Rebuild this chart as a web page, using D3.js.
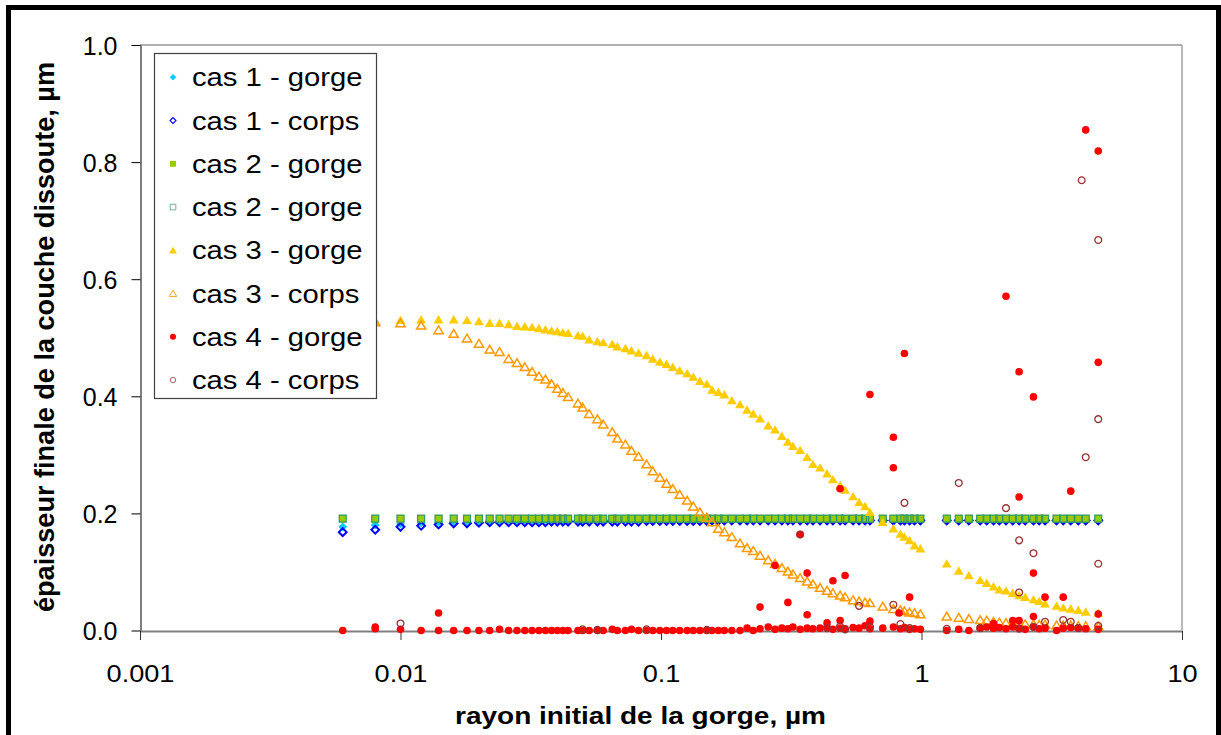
<!DOCTYPE html>
<html>
<head>
<meta charset="utf-8">
<script src="https://cdn.jsdelivr.net/npm/d3@7"></script>
<style>
  body { margin: 0; background: #fff; }
  text { font-family: "Liberation Sans", Arial, sans-serif; }
</style>
</head>
<body>
<script>
/////////////
/// DATA  ///
/////////////

// initial radius of the groove, µm (shared by every series)
var xs = [
  0.006,0.008,0.010,0.012,0.014,0.016,0.018,0.020,0.022,0.024,
  0.026,0.028,0.030,0.032,0.034,0.036,0.038,0.040,0.042,0.044,
  0.048,0.050,0.053,0.057,0.060,0.065,0.068,0.073,0.077,0.082,
  0.088,0.093,0.099,0.105,0.111,0.118,0.126,0.133,0.141,0.150,
  0.157,0.166,0.175,0.187,0.201,0.214,0.226,0.240,0.258,0.274,
  0.291,0.307,0.321,0.342,0.364,0.383,0.408,0.434,0.457,0.487,
  0.509,0.546,0.576,0.607,0.634,
  0.71,0.78,0.83,0.86,0.90,0.94,0.99,
  1.25,1.39,1.52,1.68,1.78,1.89,1.99,2.11,2.24,2.37,
  2.50,2.69,2.83,2.98,3.30,3.50,3.74,4.00,4.27,4.77];

var cas1Gorge = [
  0.177,0.180,0.182,0.184,0.185,0.186,0.186,0.187,0.187,0.187,
  0.188,0.188,0.188,0.188,0.188,0.188,0.189,0.189,0.189,0.189,
  0.189,0.189,0.189,0.189,0.189,0.190,0.190,0.190,0.190,0.190,
  0.190,0.190,0.190,0.190,0.190,0.190,0.190,0.190,0.190,0.190,
  0.190,0.190,0.190,0.190,0.190,0.190,0.190,0.190,0.190,0.190,
  0.190,0.190,0.190,0.190,0.190,0.190,0.190,0.190,0.190,0.190,
  0.190,0.190,0.190,0.190,0.190,
  0.190,0.190,0.190,0.190,0.190,0.190,0.190,
  0.190,0.190,0.190,0.190,0.190,0.190,0.190,0.190,0.190,0.190,
  0.190,0.190,0.190,0.190,0.190,0.190,0.190,0.190,0.190,0.190];

var cas1Corps = [
  0.168,0.172,0.177,0.179,0.181,0.183,0.183,0.184,0.185,0.185,
  0.185,0.185,0.185,0.185,0.185,0.185,0.186,0.186,0.186,0.186,
  0.186,0.186,0.186,0.186,0.186,0.186,0.186,0.186,0.186,0.186,
  0.187,0.187,0.187,0.187,0.187,0.187,0.187,0.187,0.187,0.187,
  0.188,0.188,0.188,0.188,0.188,0.188,0.188,0.188,0.188,0.188,
  0.188,0.188,0.188,0.188,0.188,0.188,0.188,0.188,0.188,0.188,
  0.188,0.188,0.188,0.188,0.188,
  0.188,0.188,0.188,0.188,0.188,0.188,0.188,
  0.188,0.188,0.188,0.188,0.188,0.188,0.188,0.188,0.188,0.188,
  0.188,0.188,0.188,0.188,0.188,0.188,0.188,0.188,0.188,0.188];

var cas2Gorge = [
  0.191,0.191,0.191,0.191,0.191,0.191,0.191,0.191,0.191,0.191,
  0.191,0.191,0.191,0.191,0.191,0.191,0.191,0.191,0.191,0.191,
  0.191,0.191,0.191,0.191,0.191,0.191,0.191,0.191,0.191,0.191,
  0.191,0.191,0.191,0.191,0.191,0.191,0.191,0.191,0.191,0.191,
  0.191,0.191,0.191,0.191,0.191,0.191,0.191,0.191,0.191,0.191,
  0.191,0.191,0.191,0.191,0.191,0.191,0.191,0.191,0.191,0.191,
  0.191,0.191,0.191,0.191,0.191,
  0.191,0.191,0.191,0.191,0.191,0.191,0.191,
  0.191,0.191,0.191,0.191,0.191,0.191,0.191,0.191,0.191,0.191,
  0.191,0.191,0.191,0.191,0.191,0.191,0.191,0.191,0.191,0.191];

var cas2Corps = [
  0.191,0.191,0.191,0.191,0.191,0.191,0.191,0.191,0.191,0.191,
  0.191,0.191,0.191,0.191,0.191,0.191,0.191,0.191,0.191,0.191,
  0.191,0.191,0.191,0.191,0.191,0.191,0.191,0.191,0.191,0.191,
  0.191,0.191,0.191,0.191,0.191,0.191,0.191,0.191,0.191,0.191,
  0.191,0.191,0.191,0.191,0.191,0.191,0.191,0.191,0.191,0.191,
  0.191,0.191,0.191,0.191,0.191,0.191,0.191,0.191,0.191,0.191,
  0.191,0.191,0.191,0.191,0.191,
  0.191,0.191,0.191,0.191,0.191,0.191,0.191,
  0.191,0.191,0.191,0.191,0.191,0.191,0.191,0.191,0.191,0.191,
  0.191,0.191,0.191,0.191,0.191,0.191,0.191,0.191,0.191,0.191];

var cas3Gorge = [
  0.520,0.526,0.530,0.531,0.531,0.531,0.530,0.528,0.525,0.525,
  0.523,0.520,0.519,0.518,0.516,0.514,0.512,0.511,0.509,0.508,
  0.504,0.503,0.497,0.494,0.492,0.489,0.485,0.482,0.478,0.474,
  0.470,0.464,0.459,0.455,0.450,0.444,0.439,0.433,0.426,0.421,
  0.411,0.407,0.403,0.393,0.386,0.377,0.370,0.362,0.350,0.343,
  0.332,0.322,0.315,0.308,0.296,0.284,0.278,0.268,0.258,0.248,
  0.240,0.229,0.219,0.212,0.202,
  0.185,0.174,0.165,0.160,0.154,0.145,0.140,
  0.114,0.102,0.094,0.086,0.081,0.075,0.070,0.068,0.064,0.060,
  0.057,0.053,0.050,0.046,0.042,0.039,0.037,0.035,0.032,0.030];

var cas3Corps = [
  0.524,0.527,0.525,0.521,0.513,0.507,0.499,0.490,0.480,0.476,
  0.464,0.457,0.450,0.442,0.434,0.429,0.421,0.413,0.406,0.399,
  0.388,0.381,0.370,0.361,0.352,0.339,0.328,0.318,0.307,0.297,
  0.284,0.272,0.261,0.251,0.242,0.232,0.222,0.212,0.202,0.193,
  0.185,0.174,0.168,0.160,0.149,0.141,0.136,0.128,0.120,0.114,
  0.107,0.101,0.096,0.090,0.084,0.079,0.073,0.068,0.064,0.060,
  0.057,0.052,0.050,0.048,0.047,
  0.041,0.037,0.035,0.033,0.031,0.030,0.028,
  0.024,0.022,0.020,0.018,0.017,0.015,0.014,0.013,0.012,0.012,
  0.011,0.011,0.010,0.010,0.009,0.009,0.009,0.008,0.008,0.007];

// cas 4 - gorge : the row along zero, then the scattered points above it
var cas4GorgeBase = [
  0,0.003,0.002,0,0,0,0,0,0,0.002,
  0,0,0,0,0,0,0,0,0,0,
  0,0,0,0,0,0.002,0,0,0.002,0,
  0,0,0,0,0,0,0,0,0,0,
  0,0,0,0,0,0.004,0,0.003,0.006,0.002,
  0.004,0.003,0.006,0.002,0.004,0.003,0.004,0.005,0.002,0.004,
  0.003,0.005,0.004,0.008,0.003,
  0.004,0.006,0.003,0.005,0.002,0.003,0.002,
  0,0.002,0,0.004,0.006,0.004,0.005,0.003,0.006,0.004,
  0.002,0.006,0.003,0.004,0,0.004,0.005,0.004,0.003,0.002];
var cas4GorgeSpikeX = [0.008,0.014,0.240,0.274,0.307,0.342,0.364,0.364,0.434,0.457,
  0.487,0.487,0.509,0.634,0.634,0.78,0.78,0.82,0.86,0.90,
  1.89,2.11,2.24,2.37,2.37,2.37,2.69,2.69,2.69,2.98,
  3.50,3.74,4.27,4.77,4.77,4.77];
var cas4GorgeSpikeY = [0.006,0.030,0.040,0.111,0.048,0.164,0.098,0.027,0.013,0.085,
  0.242,0.017,0.094,0.403,0.016,0.330,0.278,0.030,0.473,0.057,
  0.012,0.571,0.017,0.442,0.228,0.017,0.399,0.098,0.024,0.057,
  0.057,0.238,0.855,0.819,0.458,0.028];

// cas 4 - corps
var cas4CorpsX = [0.010,0.050,0.057,0.088,0.150,0.342,0.434,0.487,0.509,0.576,
  0.634,0.78,0.83,0.86,0.90,1.25,1.39,1.68,2.11,2.37,
  2.37,2.37,2.69,2.69,2.98,3.50,3.74,4.00,4.12,4.27,
  4.77,4.77,4.77,4.77];
var cas4CorpsY = [0.012,0.002,0.001,0.002,0.001,0.164,0.004,0.007,0.002,0.042,
  0.006,0.044,0.011,0.218,0.004,0.003,0.252,0.004,0.209,0.154,
  0.065,0.003,0.132,0.006,0.015,0.018,0.015,0.004,0.769,0.296,
  0.667,0.361,0.114,0.008];

var legendLabels = ["cas 1 - gorge", "cas 1 - corps", "cas 2 - gorge", "cas 2 - gorge",
                    "cas 3 - gorge", "cas 3 - corps", "cas 4 - gorge", "cas 4 - corps"];
var xTicks = [0.001, 0.01, 0.1, 1, 10];
var xTickLabels = ["0.001", "0.01", "0.1", "1", "10"];
var yTicks = [0, 0.2, 0.4, 0.6, 0.8, 1.0];
var yTickLabels = ["0.0", "0.2", "0.4", "0.6", "0.8", "1.0"];

/////////////////
/// SETUP VIZ ///
/////////////////

var plot = {left: 140, right: 1182, top: 45, bottom: 630.5};

var x = d3.scaleLog().domain([0.001, 10]).range([plot.left, plot.right]),
    y = d3.scaleLinear().domain([0, 1]).range([plot.bottom, plot.top]);

var svg = d3.select("body").append("svg")
    .attr("width", 1221)
    .attr("height", 735);

svg.append("rect")
    .attr("width", 1221).attr("height", 735)
    .attr("fill", "#fff");

// marker outlines, centred on 0,0
function markerPath(shape, s) {
  if (shape == "diamond") return "M0," + (-s) + "L" + s + ",0L0," + s + "L" + (-s) + ",0Z";
  if (shape == "square") return "M" + (-s) + "," + (-s) + "H" + s + "V" + s + "H" + (-s) + "Z";
  if (shape == "triangle") return "M0," + (-s * 1.05) + "L" + (s * 1.15) + "," + (s * 0.9) +
                                  "L" + (-s * 1.15) + "," + (s * 0.9) + "Z";
  return "M" + s + ",0A" + s + "," + s + " 0 1,1 " + (-s) + ",0A" + s + "," + s + " 0 1,1 " + s + ",0Z";
}

var styles = [
  {shape: "diamond",  size: 4.4, fill: "#00ccff", stroke: "none",    sw: 0},
  {shape: "diamond",  size: 3.9, fill: "none",    stroke: "#0000ff", sw: 2.0},
  {shape: "square",   size: 3.7, fill: "#99cc00", stroke: "none",    sw: 0},
  {shape: "square",   size: 3.5, fill: "none",    stroke: "#339966", sw: 1.2},
  {shape: "triangle", size: 4.3, fill: "#ffcc00", stroke: "none",    sw: 0},
  {shape: "triangle", size: 4.0, fill: "none",    stroke: "#ff9900", sw: 1.5},
  {shape: "circle",   size: 3.8, fill: "#ff0000", stroke: "none",    sw: 0},
  {shape: "circle",   size: 3.4, fill: "none",    stroke: "#993333", sw: 1.3}
];
var legendScale = [0.75, 0.75, 0.8, 0.8, 0.8, 0.8, 0.8, 0.8];

function pairs(xv, yv) { return xv.map(function(d, i) { return [d, yv[i]]; }); }

var seriesPoints = [
  pairs(xs, cas1Gorge),
  pairs(xs, cas1Corps),
  pairs(xs, cas2Gorge),
  pairs(xs, cas2Corps),
  pairs(xs, cas3Gorge),
  pairs(xs, cas3Corps),
  pairs(xs, cas4GorgeBase).concat(pairs(cas4GorgeSpikeX, cas4GorgeSpikeY)),
  pairs(cas4CorpsX, cas4CorpsY)
];

// plot area frame (top and right edges)
svg.append("line")
    .attr("x1", plot.left).attr("x2", plot.right)
    .attr("y1", plot.top).attr("y2", plot.top)
    .attr("stroke", "#b0b0b0").attr("stroke-width", 2);
svg.append("line")
    .attr("x1", plot.right).attr("x2", plot.right)
    .attr("y1", plot.top).attr("y2", plot.bottom)
    .attr("stroke", "#a0a0a0").attr("stroke-width", 1.5);

// y axis
var yAxisG = svg.append("g")
    .attr("transform", "translate(" + (plot.left + 0.5) + ",0)")
    .call(d3.axisLeft(y).tickValues(yTicks)
            .tickFormat(function(d, i) { return yTickLabels[i]; })
            .tickSize(9).tickSizeOuter(0).tickPadding(14));
yAxisG.select(".domain").attr("stroke", "#000");
yAxisG.selectAll(".tick line").attr("stroke", "#000");
yAxisG.selectAll(".tick text")
    .attr("fill", "#000")
    .attr("font-size", 25)
    .attr("font-family", "Liberation Sans, Arial, sans-serif")
    .attr("dy", "0.37em");

// x axis
var xAxisG = svg.append("g")
    .attr("transform", "translate(0," + (plot.bottom + 0.5) + ")")
    .call(d3.axisBottom(x).tickValues(xTicks)
            .tickFormat(function(d, i) { return xTickLabels[i]; })
            .tickSize(9).tickSizeOuter(0).tickPadding(26));
xAxisG.select(".domain").attr("stroke", "#808080").attr("stroke-width", 2);
xAxisG.selectAll(".tick line").attr("stroke", "#333");
xAxisG.selectAll(".tick text")
    .attr("fill", "#000")
    .attr("font-size", 23)
    .attr("font-family", "Liberation Sans, Arial, sans-serif")
    .attr("transform", "scale(1.18,1)");

// series, drawn in legend order
seriesPoints.forEach(function(points, k) {
  var st = styles[k];
  svg.append("g")
      .selectAll("path")
      .data(points)
      .join("path")
      .attr("transform", function(d) { return "translate(" + x(d[0]) + "," + y(d[1]) + ")"; })
      .attr("d", markerPath(st.shape, st.size))
      .attr("fill", st.fill)
      .attr("stroke", st.stroke)
      .attr("stroke-width", st.sw);
});

// legend
var legend = svg.append("g");
legend.append("rect")
    .attr("x", 154.5).attr("y", 53.5)
    .attr("width", 222).attr("height", 345)
    .attr("fill", "#fff")
    .attr("stroke", "#404040").attr("stroke-width", 1.2);

legendLabels.forEach(function(label, i) {
  var st = styles[i],
      cy = 77.3 + i * 43.25;
  legend.append("path")
      .attr("transform", "translate(173," + cy + ")")
      .attr("d", markerPath(st.shape, st.size * legendScale[i]))
      .attr("fill", st.fill)
      .attr("stroke", st.stroke)
      .attr("stroke-width", st.sw * 0.6);
  legend.append("text")
      .attr("transform", "translate(192," + (cy + 9) + ") scale(1.17,1)")
      .attr("font-size", 25)
      .attr("fill", "#000")
      .text(label);
});

// axis titles
svg.append("text")
    .attr("x", 455).attr("y", 724)
    .attr("font-size", 23)
    .attr("font-weight", "bold")
    .attr("textLength", 371)
    .attr("lengthAdjust", "spacingAndGlyphs")
    .text("rayon initial de la gorge, µm");

svg.append("text")
    .attr("transform", "translate(54,612) rotate(-90) scale(1,1.18)")
    .attr("font-size", 23)
    .attr("font-weight", "bold")
    .attr("textLength", 550)
    .attr("lengthAdjust", "spacingAndGlyphs")
    .text("épaisseur finale de la couche dissoute, µm");

// outer border
svg.append("rect")
    .attr("x", 8.5).attr("y", 7.5)
    .attr("width", 1210).attr("height", 800)
    .attr("fill", "none")
    .attr("stroke", "#000").attr("stroke-width", 5);
</script>
</body>
</html>
